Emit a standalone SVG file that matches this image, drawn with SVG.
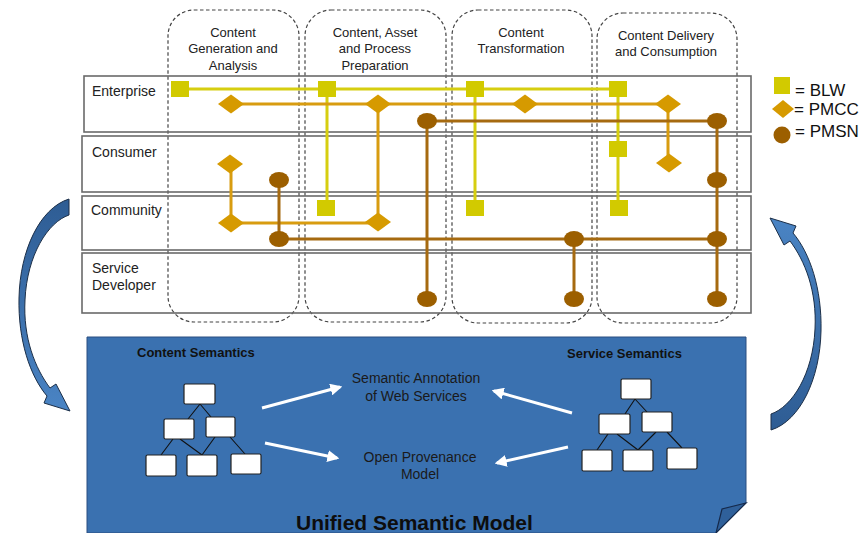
<svg xmlns="http://www.w3.org/2000/svg" width="861" height="533" viewBox="0 0 861 533">
<style>
text{font-family:"Liberation Sans",Arial,sans-serif;fill:#222}
.hdr{font-size:13px;text-anchor:middle}
.row{font-size:14px}
.leg{font-size:17px;fill:#111}
.lane{fill:none;stroke:#444;stroke-width:1.2;stroke-dasharray:3.5,2.5}
.rowbox{fill:none;stroke:#6a6a6a;stroke-width:1.6}
.blw{fill:#D2CA00}
.pmcc{fill:#D69A00}
.pmsn{fill:#9C5F00}
.lblw{stroke:#D6CE10;stroke-width:3;fill:none}
.lpmcc{stroke:#D89C10;stroke-width:3;fill:none}
.lpmsn{stroke:#A66A10;stroke-width:3;fill:none}
.tb{fill:#fff;stroke:#222;stroke-width:1.2}
.tl{stroke:#111;stroke-width:1.1;fill:none}
.wa{stroke:#fff;stroke-width:3;fill:none;marker-end:url(#wh)}
.sem{font-size:14px;text-anchor:middle;fill:#1a1a1a}
.bold{font-size:13px;font-weight:bold;fill:#111}
.bigarrow{fill:url(#ag);stroke:#1c2f48;stroke-width:1}
</style>
<defs>
<marker id="wh" viewBox="0 0 10 10" refX="8" refY="5" markerWidth="4" markerHeight="4" orient="auto" markerUnits="strokeWidth">
<path d="M0,0 L10,5 L0,10 Z" fill="#fff"/>
</marker>
<linearGradient id="ag" x1="0" y1="0" x2="0" y2="1">
<stop offset="0" stop-color="#2E5C93"/>
<stop offset="1" stop-color="#4A84C4"/>
</linearGradient>
<rect id="sq" x="-9" y="-8" width="18" height="16"/>
<path id="dm" d="M-13,0 L0,-9.5 L13,0 L0,9.5 Z"/>
<ellipse id="ci" rx="10" ry="8"/>
</defs>

<!-- unified semantic model box -->
<g id="usm">
<path d="M87,337 H746 V503 L716,533 H87 Z" fill="#3A71B0" stroke="#2a4f80" stroke-width="1"/>
<path d="M746,503 L722,509 L716,533 Z" fill="#2F609A" stroke="#15294a" stroke-width="1.2"/>
<text x="296" y="530" style="font-size:21px;font-weight:bold;fill:#0d0d0d">Unified Semantic Model</text>
</g>

<!-- side arrows -->
<g id="arrow-left">
<path class="bigarrow" d="M69,199 L69,215 C48,222 27,255 25,300 C23,338 35,368 50,388 L56,384 L70,411 L44,403 L47,396 C30,376 18,340 19,298 C20,250 40,208 69,199 Z"/>
</g>
<g id="arrow-right">
<path class="bigarrow" transform="rotate(180 420 314.5)" d="M69,199 L69,215 C48,222 27,255 25,300 C23,338 35,368 50,388 L56,384 L70,411 L44,403 L47,396 C30,376 18,340 19,298 C20,250 40,208 69,199 Z"/>
</g>

<!-- swimlane columns -->
<g id="col-generation">
<rect class="lane" x="168" y="10" width="131" height="312" rx="26"/>
<text class="hdr" x="233" y="37">Content</text>
<text class="hdr" x="233" y="53">Generation and</text>
<text class="hdr" x="233" y="70">Analysis</text>
</g>
<g id="col-preparation">
<rect class="lane" x="305" y="10" width="141" height="312" rx="26"/>
<text class="hdr" x="375" y="37">Content, Asset</text>
<text class="hdr" x="375" y="53">and Process</text>
<text class="hdr" x="375" y="70">Preparation</text>
</g>
<g id="col-transformation">
<rect class="lane" x="452" y="10" width="140" height="313" rx="26"/>
<text class="hdr" x="521" y="37">Content</text>
<text class="hdr" x="521" y="53">Transformation</text>
</g>
<g id="col-delivery">
<rect class="lane" x="597" y="13" width="140" height="310" rx="26"/>
<text class="hdr" x="666" y="40">Content Delivery</text>
<text class="hdr" x="666" y="56">and Consumption</text>
</g>

<!-- rows -->
<g id="row-enterprise">
<rect class="rowbox" x="84" y="76" width="667" height="56"/>
<text class="row" x="92" y="96">Enterprise</text>
</g>
<g id="row-consumer">
<rect class="rowbox" x="82" y="136" width="669" height="56"/>
<text class="row" x="92" y="157">Consumer</text>
</g>
<g id="row-community">
<rect class="rowbox" x="82" y="196" width="669" height="54"/>
<text class="row" x="91" y="215">Community</text>
</g>
<g id="row-service-developer">
<rect class="rowbox" x="82" y="253" width="669" height="60"/>
<text class="row" x="92" y="273">Service</text>
<text class="row" x="92" y="290">Developer</text>
</g>

<!-- connectors -->
<g id="connectors">
<path class="lblw" d="M180,89 H618 M327,89 V208 M475,89 V208 M618,89 V208"/>
<path class="lpmcc" d="M231,104 H668 M378,104 V223 M668,104 V163 M231,163 V223 H378"/>
<path class="lpmsn" d="M427,121 H717 M427,121 V299 M717,121 V299 M279,180 V239 H717 M574,239 V299"/>
<path class="wa" d="M262,408 L340,387"/>
<path class="wa" d="M265,443 L337,458"/>
<path class="wa" d="M572,413 L494,391"/>
<path class="wa" d="M568,447 L497,463"/>
</g>

<!-- BLW nodes -->
<g id="blw-1"><use href="#sq" class="blw" x="180" y="89"/></g>
<g id="blw-2"><use href="#sq" class="blw" x="327" y="89"/></g>
<g id="blw-3"><use href="#sq" class="blw" x="475" y="89"/></g>
<g id="blw-4"><use href="#sq" class="blw" x="618" y="89"/></g>
<g id="blw-5"><use href="#sq" class="blw" x="618" y="149"/></g>
<g id="blw-6"><use href="#sq" class="blw" x="326" y="208"/></g>
<g id="blw-7"><use href="#sq" class="blw" x="475" y="208"/></g>
<g id="blw-8"><use href="#sq" class="blw" x="619" y="208"/></g>

<!-- PMCC nodes -->
<g id="pmcc-1"><use href="#dm" class="pmcc" x="231" y="104"/></g>
<g id="pmcc-2"><use href="#dm" class="pmcc" x="378" y="104"/></g>
<g id="pmcc-3"><use href="#dm" class="pmcc" x="525" y="104"/></g>
<g id="pmcc-4"><use href="#dm" class="pmcc" x="668" y="104"/></g>
<g id="pmcc-5"><use href="#dm" class="pmcc" x="230" y="164"/></g>
<g id="pmcc-6"><use href="#dm" class="pmcc" x="669" y="163"/></g>
<g id="pmcc-7"><use href="#dm" class="pmcc" x="231" y="223"/></g>
<g id="pmcc-8"><use href="#dm" class="pmcc" x="378" y="222"/></g>

<!-- PMSN nodes -->
<g id="pmsn-1"><use href="#ci" class="pmsn" x="427" y="121"/></g>
<g id="pmsn-2"><use href="#ci" class="pmsn" x="717" y="121"/></g>
<g id="pmsn-3"><use href="#ci" class="pmsn" x="279" y="180"/></g>
<g id="pmsn-4"><use href="#ci" class="pmsn" x="717" y="180"/></g>
<g id="pmsn-5"><use href="#ci" class="pmsn" x="279" y="239"/></g>
<g id="pmsn-6"><use href="#ci" class="pmsn" x="574" y="239"/></g>
<g id="pmsn-7"><use href="#ci" class="pmsn" x="717" y="239"/></g>
<g id="pmsn-8"><use href="#ci" class="pmsn" x="427" y="299"/></g>
<g id="pmsn-9"><use href="#ci" class="pmsn" x="574" y="299"/></g>
<g id="pmsn-10"><use href="#ci" class="pmsn" x="717" y="299"/></g>

<!-- legend -->
<g id="legend">
<rect class="blw" x="774" y="77" width="16" height="17"/>
<text class="leg" x="795" y="96">= BLW</text>
<path class="pmcc" d="M772,109 L783,100 L794,109 L783,118 Z"/>
<text class="leg" x="794" y="115">= PMCC</text>
<circle class="pmsn" cx="782" cy="135" r="8.5"/>
<text class="leg" x="795" y="137">= PMSN</text>
</g>

<!-- content semantics tree -->
<g id="content-semantics">
<text class="bold" x="137" y="357">Content Semantics</text>
<path class="tl" d="M200,404 L188,419 M200,404 L211,417 M173,439 L161,455 M180,439 L202,455 M215,437 L202,455 M230,437 L245,454"/>
<rect class="tb" x="184" y="384" width="31" height="20" rx="1.5"/>
<rect class="tb" x="164" y="419" width="30" height="20" rx="1.5"/>
<rect class="tb" x="206" y="417" width="29" height="20" rx="1.5"/>
<rect class="tb" x="146" y="455" width="30" height="21" rx="1.5"/>
<rect class="tb" x="187" y="455" width="30" height="21" rx="1.5"/>
<rect class="tb" x="231" y="454" width="30" height="20" rx="1.5"/>
</g>

<!-- service semantics tree -->
<g id="service-semantics">
<text class="bold" x="567" y="358">Service Semantics</text>
<path class="tl" d="M635,399 L625,414 M635,399 L647,412 M608,434 L597,450 M617,434 L638,450 M656,432 L638,450 M667,432 L682,448"/>
<rect class="tb" x="621" y="379" width="30" height="20" rx="1.5"/>
<rect class="tb" x="599" y="414" width="31" height="20" rx="1.5"/>
<rect class="tb" x="642" y="412" width="30" height="20" rx="1.5"/>
<rect class="tb" x="582" y="450" width="30" height="21" rx="1.5"/>
<rect class="tb" x="623" y="450" width="30" height="21" rx="1.5"/>
<rect class="tb" x="667" y="448" width="30" height="21" rx="1.5"/>
</g>

<g id="annotation">
<text class="sem" x="416" y="383">Semantic Annotation</text>
<text class="sem" x="416" y="401">of Web Services</text>
</g>
<g id="provenance">
<text class="sem" x="420" y="462">Open Provenance</text>
<text class="sem" x="420" y="479">Model</text>
</g>
</svg>
